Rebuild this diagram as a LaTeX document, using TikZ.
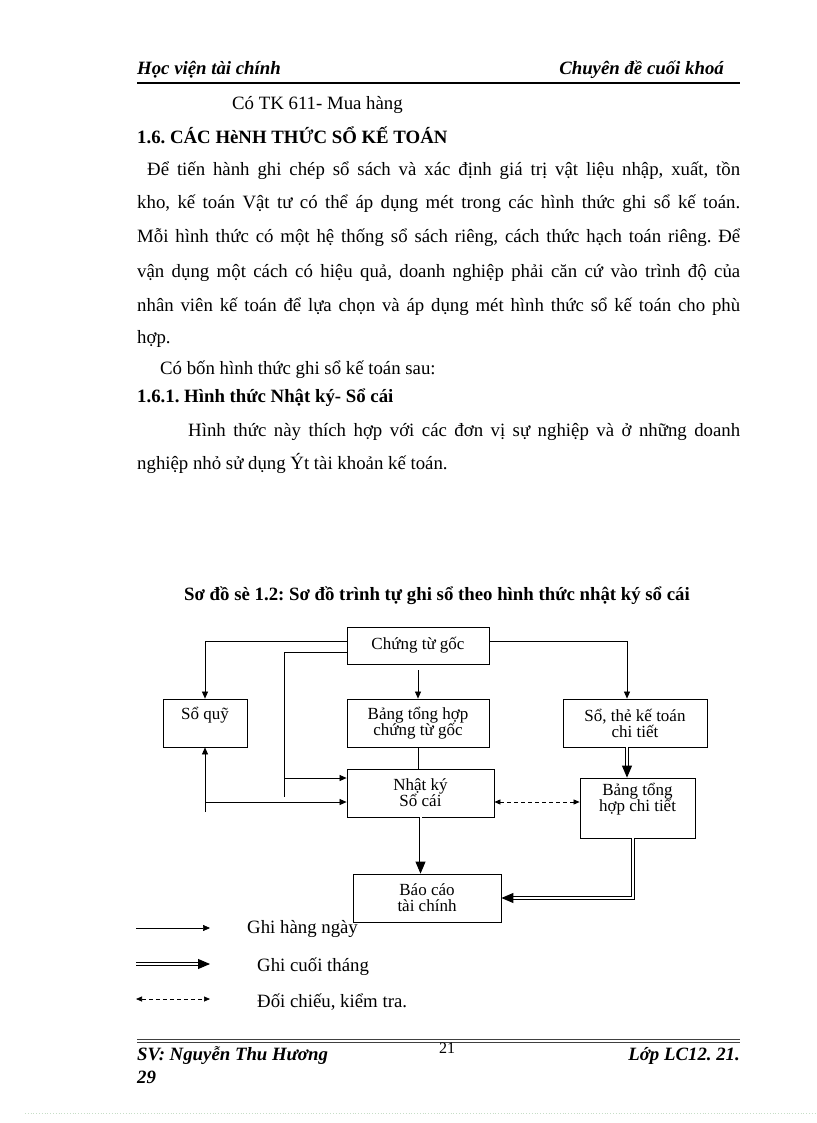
\documentclass[tikz,border=0pt]{standalone}
\usepackage{fontspec}
\setmainfont{Liberation Serif}
\usetikzlibrary{arrows.meta,calc}
\frenchspacing

\begin{document}
\begin{tikzpicture}[
    x=1pt, y=-1pt,
    body/.style={font=\fontsize{18.8}{21}\selectfont, anchor=base west, inner sep=0pt},
    heading/.style={body, font=\fontsize{18.8}{21}\selectfont\bfseries},
    runner/.style={body, font=\fontsize{18.8}{21}\selectfont\bfseries\itshape},
    box/.style={draw, line width=0.8pt, align=center, inner sep=1pt,
                font=\fontsize{17}{16}\selectfont},
    daily/.style={-{Triangle[length=7pt,width=6pt]}, line width=0.7pt},
    monthly/.style={-{Triangle[length=12pt,width=10pt]}, double, double distance=2pt,
                    line width=0.9pt},
    check/.style={{Triangle[length=6pt,width=5pt]}-{Triangle[length=6pt,width=5pt]},
                  dash pattern=on 4pt off 3pt, line width=0.7pt},
]
\useasboundingbox[fill=white] (0,0) rectangle (816,1123);

%% ── page header ──────────────────────────────────────────────
\node[runner] (hvtc) at (137,75) {Học viện tài chính};
\node[runner, anchor=base east] (cdck) at (724,75) {Chuyên đề cuối khoá};
\draw[line width=2.5pt] (137,83) -- (740,83);

%% ── text above the chart ─────────────────────────────────────
\node[body] (tk)   at (232,110) {Có TK 611- Mua hàng};
\node[heading] (h16) at (137,144) {1.6. CÁC HèNH THỨC SỔ KẾ TOÁN};
\node[body] (p1) at (147,176) {\makebox[593pt][s]{Để tiến hành ghi chép sổ sách và xác định giá trị vật liệu nhập, xuất, tồn}};
\node[body] (p2) at (137,209) {\makebox[603pt][s]{kho, kế toán Vật tư có thể áp dụng mét trong các hình thức ghi sổ kế toán.}};
\node[body] (p3) at (137,243) {\makebox[603pt][s]{Mỗi hình thức có một hệ thống sổ sách riêng, cách thức hạch toán riêng. Để}};
\node[body] (p4) at (137,277) {\makebox[603pt][s]{vận dụng một cách có hiệu quả, doanh nghiệp phải căn cứ vào trình độ của}};
\node[body] (p5) at (137,311) {\makebox[603pt][s]{nhân viên kế toán để lựa chọn và áp dụng mét hình thức sổ kế toán cho phù}};
\node[body] (p6) at (137,343) {hợp.};
\node[body] (p7) at (160,374) {Có bốn hình thức ghi sổ kế toán sau:};
\node[heading] (h161) at (137,402) {1.6.1. Hình thức Nhật ký- Sổ cái};
\node[body] (p8) at (188,436) {\makebox[552pt][s]{Hình thức này thích hợp với các đơn vị sự nghiệp và ở những doanh}};
\node[body] (p9) at (137,469) {nghiệp nhỏ sử dụng Ýt tài khoản kế toán.};

%% ── chart ────────────────────────────────────────────────────
\node[heading, anchor=base] (cap) at (437,600)
  {Sơ đồ sè 1.2: Sơ đồ trình tự ghi sổ theo hình thức nhật ký sổ cái};

\node[box, minimum width=142pt, minimum height=37pt] (ctg)   at (418,645.5) {Chứng từ gốc};
\node[box, minimum width=84pt,  minimum height=48pt, text depth=20pt] (soquy) at (205,723) {Sổ quỹ};
\node[box, minimum width=142pt, minimum height=48pt] (bth)   at (418,723) {Bảng tổng hợp\\chứng từ gốc};
\node[box, minimum width=144pt, minimum height=48pt] (stkt)  at (635,723) {Sổ, thẻ kế toán\\chi tiết};
\node[box, minimum width=147pt, minimum height=48pt] (nkys)  at (420.5,793) {Nhật ký\\Sổ cái};
\node[box, minimum width=115pt, minimum height=60pt, text depth=21pt] (bthct) at (637.5,808) {Bảng tổng\\hợp chi tiết};
\node[box, minimum width=148pt, minimum height=48pt] (bcao)  at (427,898) {Báo cáo\\tài chính};

\coordinate (lnA) at (284,797);
\coordinate (lnB) at (284,778);
\coordinate (lnC) at (205,812);
\coordinate (lnD) at (205,802);
\coordinate (s1)  at ([xshift=-8pt]stkt.south);
\coordinate (s2)  at ([xshift=-4.5pt]bthct.south);

\draw[daily] ([yshift=4pt]ctg.west) -| (soquy.north);
\draw[line width=0.7pt] ([yshift=-7pt]ctg.west) -| (lnA);
\draw[daily] (lnB) -- (lnB -| nkys.west);
\draw[daily] (lnC) -- (soquy.south);
\draw[daily] (lnD) -- (lnD -| nkys.west);
\draw[daily, shorten <=6pt] (ctg.south -| bth.north) -- (bth.north);
\draw[line width=0.7pt] (bth.south) -- (bth.south |- nkys.north);
\draw[daily] ([yshift=4pt]ctg.east) -| (stkt.north -| s1);
\draw[monthly] (s1) -- (s1 |- bthct.north);
\draw[monthly] (nkys.south) -- (nkys.south |- bcao.north);
\draw[monthly] (s2) |- (bcao.east);
\draw[check] (lnD -| nkys.east) -- (lnD -| bthct.west);

%% ── legend ───────────────────────────────────────────────────
\coordinate (lg1a) at (136,928);  \coordinate (lg1b) at (210,928);
\coordinate (lg2a) at (136,964);  \coordinate (lg2b) at (210,964);
\coordinate (lg3a) at (136,999);  \coordinate (lg3b) at (210,999);
\draw[daily]   (lg1a) -- (lg1b);
\draw[monthly] (lg2a) -- (lg2b);
\draw[check]   (lg3a) -- (lg3b);
\node[body] (lgt1) at (247,933)  {Ghi hàng ngày};
\node[body] (lgt2) at (257,971)  {Ghi cuối tháng};
\node[body] (lgt3) at (257,1007) {Đối chiếu, kiểm tra.};

%% ── page footer ──────────────────────────────────────────────
\draw[line width=1pt, black!75] (137,1039) -- (740,1039);
\draw[line width=1pt, black!75] (137,1042) -- (740,1042);
\node[runner] (sv)  at (137,1060) {SV: Nguyễn Thu Hương};
\node[body, anchor=base, font=\fontsize{16}{18}\selectfont] (pg) at (447,1053) {21};
\node[runner, anchor=base east] (lop) at (740,1060) {Lớp LC12. 21.};
\node[runner] (n29) at (137,1083) {29};
\draw[green!25!gray!35, dotted, line width=0.8pt] (25,1113) -- (816,1113);

\end{tikzpicture}
\end{document}
